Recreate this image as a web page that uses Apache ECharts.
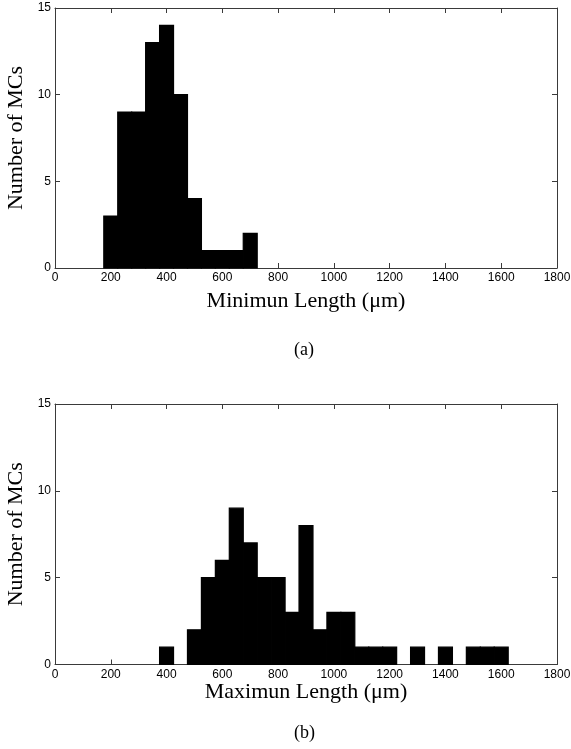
<!DOCTYPE html>
<html>
<head>
<meta charset="utf-8">
<script src="https://cdn.jsdelivr.net/npm/echarts@6/dist/echarts.min.js"></script>
<style>
html,body{margin:0;padding:0;background:#fff;}
#c{width:571px;height:749px;}
</style>
</head>
<body>
<div id="c"></div>
<script>
// Histogram (a): minimum length bins (centres, µm) and counts
const minBinCenters = [200, 250, 300, 350, 400, 450, 500, 550, 600, 650, 700];
const minCounts     = [3, 9, 9, 13, 14, 10, 4, 1, 1, 1, 2];
// Histogram (b): maximum length bins (centres, µm) and counts
const maxBinCenters = [400, 450, 500, 550, 600, 650, 700, 750, 800, 850, 900, 950, 1000, 1050, 1100, 1150, 1200, 1250, 1300, 1350, 1400, 1450, 1500, 1550, 1600];
const maxCounts     = [1, 0, 2, 5, 6, 9, 7, 5, 5, 3, 8, 2, 3, 3, 1, 1, 1, 0, 1, 0, 1, 0, 1, 1, 1];
const binWidth = 50;
// Axis ticks
const xTicks = [0, 200, 400, 600, 800, 1000, 1200, 1400, 1600, 1800];
const yTicks = [0, 5, 10, 15];

const xTitles = ['Minimun Length (\u03bcm)', 'Maximun Length (\u03bcm)'];
const yTitle = 'Number of MCs';
const panelLabels = ['(a)', '(b)'];

const axisColor = '#3a3a3a';
const serif = '"Liberation Serif", "Times New Roman", serif';
const sans = '"Liberation Sans", Arial, sans-serif';

function renderBin(params, api) {
  const c = api.value(0), v = api.value(1);
  if (!v) return null;
  const p0 = api.coord([c - binWidth / 2, v]);
  const p1 = api.coord([c + binWidth / 2, 0]);
  return {
    type: 'rect',
    shape: { x: p0[0], y: p0[1], width: p1[0] - p0[0], height: p1[1] - p0[1] },
    style: { fill: '#000', stroke: '#000', lineWidth: 1.2 }
  };
}

const grids = [
  { left: 55, right: 14, top: 8, height: 260, outerBoundsMode: 'none', containLabel: false },
  { left: 55, right: 14, top: 404, height: 260.5, outerBoundsMode: 'none', containLabel: false }
];
const xNameGaps = [22, 17];

const xAxes = [], yAxes = [];
grids.forEach((g, i) => {
  const base = {
    gridIndex: i, type: 'value', min: xTicks[0], max: xTicks[xTicks.length - 1],
    interval: xTicks[1] - xTicks[0],
    axisLine: { show: true, onZero: false, lineStyle: { color: axisColor, width: 1 } },
    axisTick: { show: true, inside: true, length: 5, lineStyle: { color: axisColor } },
    splitLine: { show: false }
  };
  xAxes.push(Object.assign({}, base, {
    position: 'bottom',
    axisLabel: { show: true, color: '#000', fontFamily: sans, fontSize: 12, margin: 4,
      formatter: v => String(v) },
    name: xTitles[i], nameLocation: 'middle', nameGap: xNameGaps[i],
    nameTextStyle: { fontFamily: serif, fontSize: 22, color: '#000' }
  }));
  xAxes.push(Object.assign({}, base, {
    position: 'top', axisLabel: { show: false }
  }));
  const ybase = {
    gridIndex: i, type: 'value', min: yTicks[0], max: yTicks[yTicks.length - 1],
    interval: yTicks[1] - yTicks[0],
    axisLine: { show: true, onZero: false, lineStyle: { color: axisColor, width: 1 } },
    axisTick: { show: true, inside: true, length: 5, lineStyle: { color: axisColor } },
    splitLine: { show: false }
  };
  yAxes.push(Object.assign({}, ybase, {
    position: 'left',
    axisLabel: { show: true, color: '#000', fontFamily: sans, fontSize: 12, margin: 4,
      formatter: v => String(v) },
    name: yTitle, nameLocation: 'middle', nameGap: 26, nameRotate: 90,
    nameTextStyle: { fontFamily: serif, fontSize: 22, color: '#000' }
  }));
  yAxes.push(Object.assign({}, ybase, {
    position: 'right', axisLabel: { show: false }
  }));
});

const chart = echarts.init(document.getElementById('c'), null, { renderer: 'canvas' });
chart.setOption({
  backgroundColor: '#fff',
  animation: false,
  grid: grids,
  xAxis: xAxes,
  yAxis: yAxes,
  series: [
    {
      type: 'custom', xAxisIndex: 0, yAxisIndex: 0,
      renderItem: renderBin, encode: { x: 0, y: 1 },
      data: minBinCenters.map((c, k) => [c, minCounts[k]])
    },
    {
      type: 'custom', xAxisIndex: 2, yAxisIndex: 2,
      renderItem: renderBin, encode: { x: 0, y: 1 },
      data: maxBinCenters.map((c, k) => [c, maxCounts[k]])
    }
  ],
  graphic: [
    { type: 'text', left: 294, top: 341, style: { text: panelLabels[0], font: '18px ' + serif, fill: '#000' } },
    { type: 'text', left: 294, top: 724, style: { text: panelLabels[1], font: '18px ' + serif, fill: '#000' } }
  ]
});
</script>
</body>
</html>
